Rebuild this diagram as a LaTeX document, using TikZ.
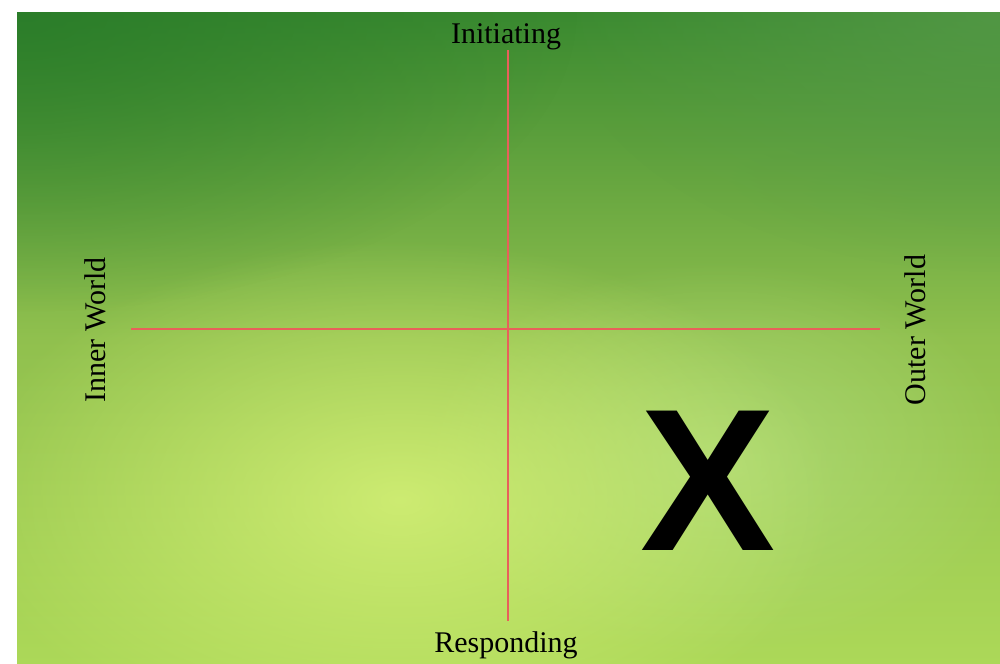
\documentclass[tikz,border=0pt]{standalone}
\usepackage{fontspec}
\setmainfont{Liberation Serif}
\newfontfamily\markfont{Liberation Sans}
\usetikzlibrary{positioning,fadings}

\definecolor{leaftop}{HTML}{3A8A30}
\definecolor{leafmid}{HTML}{90C04E}
\definecolor{leafbot}{HTML}{ACD858}
\definecolor{leafglow}{HTML}{DDF67C}
\definecolor{leafdark}{HTML}{277A28}
\definecolor{leafright}{HTML}{5A9C4C}
\definecolor{leafpale}{HTML}{B8E288}
\definecolor{axisred}{HTML}{E8605A}

\tikzfading[name=softspot, inner color=transparent!0, outer color=transparent!100]

\begin{document}
\begin{tikzpicture}[x=0.75pt, y=-0.75pt,
  pole/.style={font=\fontsize{22.5}{26}\selectfont, inner sep=0pt, anchor=base},
  axis/.style={axisred, line width=1.7pt},
  bigmark/.style={font=\markfont\bfseries\fontsize{152}{160}\selectfont, inner sep=0pt, anchor=base}
]
\useasboundingbox (0,0) rectangle (1000,664);

% background paper
\begin{scope}
  \clip (17,12) rectangle (1000,664);
  \shade[top color=leaftop, bottom color=leafbot, middle color=leafmid] (17,12) rectangle (1000,664);
  \fill[leafright, path fading=softspot, fill opacity=0.7] (1000,12) ellipse (440 and 260);
  \fill[leafdark, path fading=softspot, fill opacity=0.8] (17,12) ellipse (560 and 300);
  \fill[leafpale, path fading=softspot, fill opacity=0.6] (720,460) ellipse (300 and 200);
  \fill[leafglow, path fading=softspot, fill opacity=0.75] (400,500) ellipse (440 and 260);
\end{scope}

% labels
\node[pole] (init) at (506,43) {Initiating};
\node[pole] (resp) at (506,652) {Responding};
\node[pole, rotate=90] (inner) at (105,330) {Inner World};
\node[pole, rotate=90] (outer) at (925,330) {Outer World};

% axes
\coordinate (top) at (508,50);
\coordinate (bottom) at (508,621);
\coordinate (left) at (131,329);
\coordinate (right) at (880,329);
\draw[axis] (top) -- (bottom);
\draw[axis] (left) -- (right);

\node[bigmark] (x) at (708,550) {X};
\end{tikzpicture}
\end{document}
